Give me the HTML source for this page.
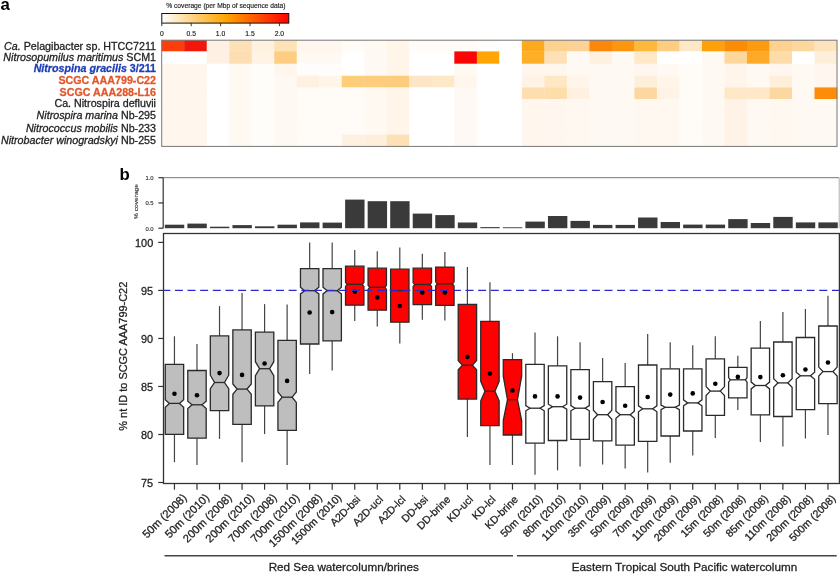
<!DOCTYPE html>
<html><head><meta charset="utf-8"><style>
html,body{margin:0;padding:0;background:#fff;}
svg{display:block;}
text{font-family:"Liberation Sans", sans-serif;}
svg{will-change:transform;}
</style></head><body>
<svg width="840" height="575" viewBox="0 0 840 575">
<defs><linearGradient id="cb" x1="0" x2="1" y1="0" y2="0">
<stop offset="0" stop-color="#ffffff"/><stop offset="0.5" stop-color="#ffa500"/><stop offset="1" stop-color="#ff0000"/>
</linearGradient></defs>
<rect width="840" height="575" fill="#fff"/>

<text x="0.6" y="9.8" font-size="16.8" font-weight="bold" fill="#000">a</text>
<text x="225.9" y="7.6" font-size="6.7" text-anchor="middle" fill="#222" stroke="#222" stroke-width="0.15">% coverage (per Mbp of sequence data)</text>
<rect x="161.8" y="13.5" width="127" height="9.6" fill="url(#cb)" stroke="#111" stroke-width="1"/>
<line x1="161.8" y1="23.1" x2="161.8" y2="26.2" stroke="#222" stroke-width="0.9"/>
<text x="161.8" y="35.8" font-size="6.8" text-anchor="middle" fill="#222" stroke="#222" stroke-width="0.15">0</text>
<line x1="191.2" y1="23.1" x2="191.2" y2="26.2" stroke="#222" stroke-width="0.9"/>
<text x="191.2" y="35.8" font-size="6.8" text-anchor="middle" fill="#222" stroke="#222" stroke-width="0.15">0.5</text>
<line x1="220.6" y1="23.1" x2="220.6" y2="26.2" stroke="#222" stroke-width="0.9"/>
<text x="220.6" y="35.8" font-size="6.8" text-anchor="middle" fill="#222" stroke="#222" stroke-width="0.15">1.0</text>
<line x1="250.0" y1="23.1" x2="250.0" y2="26.2" stroke="#222" stroke-width="0.9"/>
<text x="250.0" y="35.8" font-size="6.8" text-anchor="middle" fill="#222" stroke="#222" stroke-width="0.15">1.5</text>
<line x1="279.4" y1="23.1" x2="279.4" y2="26.2" stroke="#222" stroke-width="0.9"/>
<text x="279.4" y="35.8" font-size="6.8" text-anchor="middle" fill="#222" stroke="#222" stroke-width="0.15">2.0</text>
<rect x="161.70" y="40.20" width="22.81" height="11.50" fill="rgb(250,62,12)"/>
<rect x="161.70" y="51.40" width="22.81" height="12.60" fill="rgb(255,255,255)"/>
<rect x="161.70" y="63.70" width="22.81" height="12.30" fill="rgb(255,246,237)"/>
<rect x="161.70" y="75.70" width="22.81" height="12.00" fill="rgb(255,246,237)"/>
<rect x="161.70" y="87.40" width="22.81" height="12.00" fill="rgb(255,246,237)"/>
<rect x="161.70" y="99.10" width="22.81" height="12.10" fill="rgb(255,246,237)"/>
<rect x="161.70" y="110.90" width="22.81" height="12.20" fill="rgb(255,246,237)"/>
<rect x="161.70" y="122.80" width="22.81" height="12.10" fill="rgb(255,246,237)"/>
<rect x="161.70" y="134.60" width="22.81" height="12.10" fill="rgb(255,246,237)"/>
<rect x="184.21" y="40.20" width="22.81" height="11.50" fill="rgb(242,22,12)"/>
<rect x="184.21" y="51.40" width="22.81" height="12.60" fill="rgb(255,255,255)"/>
<rect x="184.21" y="63.70" width="22.81" height="12.30" fill="rgb(255,246,237)"/>
<rect x="184.21" y="75.70" width="22.81" height="12.00" fill="rgb(255,246,237)"/>
<rect x="184.21" y="87.40" width="22.81" height="12.00" fill="rgb(255,246,237)"/>
<rect x="184.21" y="99.10" width="22.81" height="12.10" fill="rgb(255,246,237)"/>
<rect x="184.21" y="110.90" width="22.81" height="12.20" fill="rgb(255,246,237)"/>
<rect x="184.21" y="122.80" width="22.81" height="12.10" fill="rgb(255,246,237)"/>
<rect x="184.21" y="134.60" width="22.81" height="12.10" fill="rgb(255,246,237)"/>
<rect x="206.72" y="40.20" width="22.81" height="11.50" fill="rgb(254,241,227)"/>
<rect x="206.72" y="51.40" width="22.81" height="12.60" fill="rgb(254,241,227)"/>
<rect x="206.72" y="63.70" width="22.81" height="12.30" fill="rgb(255,255,255)"/>
<rect x="206.72" y="75.70" width="22.81" height="12.00" fill="rgb(255,255,255)"/>
<rect x="206.72" y="87.40" width="22.81" height="12.00" fill="rgb(255,255,255)"/>
<rect x="206.72" y="99.10" width="22.81" height="12.10" fill="rgb(255,255,255)"/>
<rect x="206.72" y="110.90" width="22.81" height="12.20" fill="rgb(255,255,255)"/>
<rect x="206.72" y="122.80" width="22.81" height="12.10" fill="rgb(255,255,255)"/>
<rect x="206.72" y="134.60" width="22.81" height="12.10" fill="rgb(255,255,255)"/>
<rect x="229.23" y="40.20" width="22.81" height="11.50" fill="rgb(253,225,182)"/>
<rect x="229.23" y="51.40" width="22.81" height="12.60" fill="rgb(253,222,178)"/>
<rect x="229.23" y="63.70" width="22.81" height="12.30" fill="rgb(255,249,243)"/>
<rect x="229.23" y="75.70" width="22.81" height="12.00" fill="rgb(255,249,243)"/>
<rect x="229.23" y="87.40" width="22.81" height="12.00" fill="rgb(255,249,243)"/>
<rect x="229.23" y="99.10" width="22.81" height="12.10" fill="rgb(255,249,243)"/>
<rect x="229.23" y="110.90" width="22.81" height="12.20" fill="rgb(255,249,243)"/>
<rect x="229.23" y="122.80" width="22.81" height="12.10" fill="rgb(255,249,243)"/>
<rect x="229.23" y="134.60" width="22.81" height="12.10" fill="rgb(255,249,243)"/>
<rect x="251.74" y="40.20" width="22.81" height="11.50" fill="rgb(254,241,224)"/>
<rect x="251.74" y="51.40" width="22.81" height="12.60" fill="rgb(254,243,229)"/>
<rect x="251.74" y="63.70" width="22.81" height="12.30" fill="rgb(255,253,249)"/>
<rect x="251.74" y="75.70" width="22.81" height="12.00" fill="rgb(255,253,249)"/>
<rect x="251.74" y="87.40" width="22.81" height="12.00" fill="rgb(255,253,249)"/>
<rect x="251.74" y="99.10" width="22.81" height="12.10" fill="rgb(255,253,249)"/>
<rect x="251.74" y="110.90" width="22.81" height="12.20" fill="rgb(255,253,249)"/>
<rect x="251.74" y="122.80" width="22.81" height="12.10" fill="rgb(255,253,249)"/>
<rect x="251.74" y="134.60" width="22.81" height="12.10" fill="rgb(255,253,249)"/>
<rect x="274.25" y="40.20" width="22.81" height="11.50" fill="rgb(254,225,180)"/>
<rect x="274.25" y="51.40" width="22.81" height="12.60" fill="rgb(253,205,130)"/>
<rect x="274.25" y="63.70" width="22.81" height="12.30" fill="rgb(255,246,237)"/>
<rect x="274.25" y="75.70" width="22.81" height="12.00" fill="rgb(255,249,243)"/>
<rect x="274.25" y="87.40" width="22.81" height="12.00" fill="rgb(255,249,243)"/>
<rect x="274.25" y="99.10" width="22.81" height="12.10" fill="rgb(255,249,243)"/>
<rect x="274.25" y="110.90" width="22.81" height="12.20" fill="rgb(255,249,243)"/>
<rect x="274.25" y="122.80" width="22.81" height="12.10" fill="rgb(255,249,243)"/>
<rect x="274.25" y="134.60" width="22.81" height="12.10" fill="rgb(255,249,243)"/>
<rect x="296.76" y="40.20" width="22.81" height="11.50" fill="rgb(255,246,237)"/>
<rect x="296.76" y="51.40" width="22.81" height="12.60" fill="rgb(255,249,243)"/>
<rect x="296.76" y="63.70" width="22.81" height="12.30" fill="rgb(255,253,251)"/>
<rect x="296.76" y="75.70" width="22.81" height="12.00" fill="rgb(254,241,225)"/>
<rect x="296.76" y="87.40" width="22.81" height="12.00" fill="rgb(255,251,247)"/>
<rect x="296.76" y="99.10" width="22.81" height="12.10" fill="rgb(255,251,247)"/>
<rect x="296.76" y="110.90" width="22.81" height="12.20" fill="rgb(255,251,247)"/>
<rect x="296.76" y="122.80" width="22.81" height="12.10" fill="rgb(255,251,247)"/>
<rect x="296.76" y="134.60" width="22.81" height="12.10" fill="rgb(255,251,247)"/>
<rect x="319.27" y="40.20" width="22.81" height="11.50" fill="rgb(255,246,237)"/>
<rect x="319.27" y="51.40" width="22.81" height="12.60" fill="rgb(255,249,243)"/>
<rect x="319.27" y="63.70" width="22.81" height="12.30" fill="rgb(255,253,251)"/>
<rect x="319.27" y="75.70" width="22.81" height="12.00" fill="rgb(255,245,233)"/>
<rect x="319.27" y="87.40" width="22.81" height="12.00" fill="rgb(255,251,247)"/>
<rect x="319.27" y="99.10" width="22.81" height="12.10" fill="rgb(255,251,247)"/>
<rect x="319.27" y="110.90" width="22.81" height="12.20" fill="rgb(255,251,247)"/>
<rect x="319.27" y="122.80" width="22.81" height="12.10" fill="rgb(255,251,247)"/>
<rect x="319.27" y="134.60" width="22.81" height="12.10" fill="rgb(255,251,247)"/>
<rect x="341.78" y="40.20" width="22.81" height="11.50" fill="rgb(255,251,247)"/>
<rect x="341.78" y="51.40" width="22.81" height="12.60" fill="rgb(255,255,255)"/>
<rect x="341.78" y="63.70" width="22.81" height="12.30" fill="rgb(255,255,255)"/>
<rect x="341.78" y="75.70" width="22.81" height="12.00" fill="rgb(253,205,122)"/>
<rect x="341.78" y="87.40" width="22.81" height="12.00" fill="rgb(255,251,247)"/>
<rect x="341.78" y="99.10" width="22.81" height="12.10" fill="rgb(255,251,247)"/>
<rect x="341.78" y="110.90" width="22.81" height="12.20" fill="rgb(255,251,247)"/>
<rect x="341.78" y="122.80" width="22.81" height="12.10" fill="rgb(255,251,247)"/>
<rect x="341.78" y="134.60" width="22.81" height="12.10" fill="rgb(254,241,225)"/>
<rect x="364.29" y="40.20" width="22.81" height="11.50" fill="rgb(255,249,243)"/>
<rect x="364.29" y="51.40" width="22.81" height="12.60" fill="rgb(255,249,243)"/>
<rect x="364.29" y="63.70" width="22.81" height="12.30" fill="rgb(255,249,243)"/>
<rect x="364.29" y="75.70" width="22.81" height="12.00" fill="rgb(253,205,125)"/>
<rect x="364.29" y="87.40" width="22.81" height="12.00" fill="rgb(255,249,241)"/>
<rect x="364.29" y="99.10" width="22.81" height="12.10" fill="rgb(255,249,241)"/>
<rect x="364.29" y="110.90" width="22.81" height="12.20" fill="rgb(255,249,241)"/>
<rect x="364.29" y="122.80" width="22.81" height="12.10" fill="rgb(255,249,241)"/>
<rect x="364.29" y="134.60" width="22.81" height="12.10" fill="rgb(254,239,221)"/>
<rect x="386.80" y="40.20" width="22.81" height="11.50" fill="rgb(255,245,233)"/>
<rect x="386.80" y="51.40" width="22.81" height="12.60" fill="rgb(255,245,233)"/>
<rect x="386.80" y="63.70" width="22.81" height="12.30" fill="rgb(255,245,233)"/>
<rect x="386.80" y="75.70" width="22.81" height="12.00" fill="rgb(253,205,125)"/>
<rect x="386.80" y="87.40" width="22.81" height="12.00" fill="rgb(255,245,233)"/>
<rect x="386.80" y="99.10" width="22.81" height="12.10" fill="rgb(255,245,233)"/>
<rect x="386.80" y="110.90" width="22.81" height="12.20" fill="rgb(255,245,233)"/>
<rect x="386.80" y="122.80" width="22.81" height="12.10" fill="rgb(255,245,233)"/>
<rect x="386.80" y="134.60" width="22.81" height="12.10" fill="rgb(253,225,180)"/>
<rect x="409.31" y="40.20" width="22.81" height="11.50" fill="rgb(255,251,247)"/>
<rect x="409.31" y="51.40" width="22.81" height="12.60" fill="rgb(255,255,255)"/>
<rect x="409.31" y="63.70" width="22.81" height="12.30" fill="rgb(255,255,255)"/>
<rect x="409.31" y="75.70" width="22.81" height="12.00" fill="rgb(253,230,200)"/>
<rect x="409.31" y="87.40" width="22.81" height="12.00" fill="rgb(255,255,255)"/>
<rect x="409.31" y="99.10" width="22.81" height="12.10" fill="rgb(255,255,255)"/>
<rect x="409.31" y="110.90" width="22.81" height="12.20" fill="rgb(255,255,255)"/>
<rect x="409.31" y="122.80" width="22.81" height="12.10" fill="rgb(255,255,255)"/>
<rect x="409.31" y="134.60" width="22.81" height="12.10" fill="rgb(255,255,255)"/>
<rect x="431.82" y="40.20" width="22.81" height="11.50" fill="rgb(255,251,247)"/>
<rect x="431.82" y="51.40" width="22.81" height="12.60" fill="rgb(255,255,255)"/>
<rect x="431.82" y="63.70" width="22.81" height="12.30" fill="rgb(255,255,255)"/>
<rect x="431.82" y="75.70" width="22.81" height="12.00" fill="rgb(253,232,200)"/>
<rect x="431.82" y="87.40" width="22.81" height="12.00" fill="rgb(255,255,255)"/>
<rect x="431.82" y="99.10" width="22.81" height="12.10" fill="rgb(255,255,255)"/>
<rect x="431.82" y="110.90" width="22.81" height="12.20" fill="rgb(255,255,255)"/>
<rect x="431.82" y="122.80" width="22.81" height="12.10" fill="rgb(255,255,255)"/>
<rect x="431.82" y="134.60" width="22.81" height="12.10" fill="rgb(255,255,255)"/>
<rect x="454.33" y="40.20" width="22.81" height="11.50" fill="rgb(255,251,247)"/>
<rect x="454.33" y="51.40" width="22.81" height="12.60" fill="rgb(250,5,5)"/>
<rect x="454.33" y="63.70" width="22.81" height="12.30" fill="rgb(255,249,243)"/>
<rect x="454.33" y="75.70" width="22.81" height="12.00" fill="rgb(255,246,237)"/>
<rect x="454.33" y="87.40" width="22.81" height="12.00" fill="rgb(255,249,245)"/>
<rect x="454.33" y="99.10" width="22.81" height="12.10" fill="rgb(255,249,245)"/>
<rect x="454.33" y="110.90" width="22.81" height="12.20" fill="rgb(255,249,245)"/>
<rect x="454.33" y="122.80" width="22.81" height="12.10" fill="rgb(255,249,245)"/>
<rect x="454.33" y="134.60" width="22.81" height="12.10" fill="rgb(255,249,245)"/>
<rect x="476.84" y="40.20" width="22.81" height="11.50" fill="rgb(255,253,251)"/>
<rect x="476.84" y="51.40" width="22.81" height="12.60" fill="rgb(255,165,5)"/>
<rect x="476.84" y="63.70" width="22.81" height="12.30" fill="rgb(255,255,255)"/>
<rect x="476.84" y="75.70" width="22.81" height="12.00" fill="rgb(255,255,255)"/>
<rect x="476.84" y="87.40" width="22.81" height="12.00" fill="rgb(255,255,255)"/>
<rect x="476.84" y="99.10" width="22.81" height="12.10" fill="rgb(255,255,255)"/>
<rect x="476.84" y="110.90" width="22.81" height="12.20" fill="rgb(255,255,255)"/>
<rect x="476.84" y="122.80" width="22.81" height="12.10" fill="rgb(255,255,255)"/>
<rect x="476.84" y="134.60" width="22.81" height="12.10" fill="rgb(255,255,255)"/>
<rect x="499.35" y="40.20" width="22.81" height="11.50" fill="rgb(255,255,255)"/>
<rect x="499.35" y="51.40" width="22.81" height="12.60" fill="rgb(255,255,255)"/>
<rect x="499.35" y="63.70" width="22.81" height="12.30" fill="rgb(255,255,255)"/>
<rect x="499.35" y="75.70" width="22.81" height="12.00" fill="rgb(255,255,255)"/>
<rect x="499.35" y="87.40" width="22.81" height="12.00" fill="rgb(255,255,255)"/>
<rect x="499.35" y="99.10" width="22.81" height="12.10" fill="rgb(255,255,255)"/>
<rect x="499.35" y="110.90" width="22.81" height="12.20" fill="rgb(255,255,255)"/>
<rect x="499.35" y="122.80" width="22.81" height="12.10" fill="rgb(255,255,255)"/>
<rect x="499.35" y="134.60" width="22.81" height="12.10" fill="rgb(255,255,255)"/>
<rect x="521.86" y="40.20" width="22.81" height="11.50" fill="rgb(253,170,30)"/>
<rect x="521.86" y="51.40" width="22.81" height="12.60" fill="rgb(253,175,40)"/>
<rect x="521.86" y="63.70" width="22.81" height="12.30" fill="rgb(255,246,237)"/>
<rect x="521.86" y="75.70" width="22.81" height="12.00" fill="rgb(255,243,231)"/>
<rect x="521.86" y="87.40" width="22.81" height="12.00" fill="rgb(253,222,175)"/>
<rect x="521.86" y="99.10" width="22.81" height="12.10" fill="rgb(255,246,237)"/>
<rect x="521.86" y="110.90" width="22.81" height="12.20" fill="rgb(255,246,237)"/>
<rect x="521.86" y="122.80" width="22.81" height="12.10" fill="rgb(255,246,237)"/>
<rect x="521.86" y="134.60" width="22.81" height="12.10" fill="rgb(255,246,237)"/>
<rect x="544.37" y="40.20" width="22.81" height="11.50" fill="rgb(253,210,145)"/>
<rect x="544.37" y="51.40" width="22.81" height="12.60" fill="rgb(253,225,180)"/>
<rect x="544.37" y="63.70" width="22.81" height="12.30" fill="rgb(255,246,237)"/>
<rect x="544.37" y="75.70" width="22.81" height="12.00" fill="rgb(253,232,195)"/>
<rect x="544.37" y="87.40" width="22.81" height="12.00" fill="rgb(253,222,170)"/>
<rect x="544.37" y="99.10" width="22.81" height="12.10" fill="rgb(255,247,239)"/>
<rect x="544.37" y="110.90" width="22.81" height="12.20" fill="rgb(255,247,239)"/>
<rect x="544.37" y="122.80" width="22.81" height="12.10" fill="rgb(255,247,239)"/>
<rect x="544.37" y="134.60" width="22.81" height="12.10" fill="rgb(255,247,239)"/>
<rect x="566.88" y="40.20" width="22.81" height="11.50" fill="rgb(253,210,150)"/>
<rect x="566.88" y="51.40" width="22.81" height="12.60" fill="rgb(255,249,243)"/>
<rect x="566.88" y="63.70" width="22.81" height="12.30" fill="rgb(255,249,243)"/>
<rect x="566.88" y="75.70" width="22.81" height="12.00" fill="rgb(255,245,235)"/>
<rect x="566.88" y="87.40" width="22.81" height="12.00" fill="rgb(255,240,223)"/>
<rect x="566.88" y="99.10" width="22.81" height="12.10" fill="rgb(255,248,241)"/>
<rect x="566.88" y="110.90" width="22.81" height="12.20" fill="rgb(255,248,241)"/>
<rect x="566.88" y="122.80" width="22.81" height="12.10" fill="rgb(255,248,241)"/>
<rect x="566.88" y="134.60" width="22.81" height="12.10" fill="rgb(255,248,241)"/>
<rect x="589.39" y="40.20" width="22.81" height="11.50" fill="rgb(252,135,10)"/>
<rect x="589.39" y="51.40" width="22.81" height="12.60" fill="rgb(254,241,223)"/>
<rect x="589.39" y="63.70" width="22.81" height="12.30" fill="rgb(255,249,243)"/>
<rect x="589.39" y="75.70" width="22.81" height="12.00" fill="rgb(255,249,243)"/>
<rect x="589.39" y="87.40" width="22.81" height="12.00" fill="rgb(255,249,243)"/>
<rect x="589.39" y="99.10" width="22.81" height="12.10" fill="rgb(255,249,243)"/>
<rect x="589.39" y="110.90" width="22.81" height="12.20" fill="rgb(255,249,243)"/>
<rect x="589.39" y="122.80" width="22.81" height="12.10" fill="rgb(255,249,243)"/>
<rect x="589.39" y="134.60" width="22.81" height="12.10" fill="rgb(255,249,243)"/>
<rect x="611.90" y="40.20" width="22.81" height="11.50" fill="rgb(253,150,15)"/>
<rect x="611.90" y="51.40" width="22.81" height="12.60" fill="rgb(255,249,243)"/>
<rect x="611.90" y="63.70" width="22.81" height="12.30" fill="rgb(255,249,243)"/>
<rect x="611.90" y="75.70" width="22.81" height="12.00" fill="rgb(255,249,243)"/>
<rect x="611.90" y="87.40" width="22.81" height="12.00" fill="rgb(255,249,243)"/>
<rect x="611.90" y="99.10" width="22.81" height="12.10" fill="rgb(255,249,243)"/>
<rect x="611.90" y="110.90" width="22.81" height="12.20" fill="rgb(255,249,243)"/>
<rect x="611.90" y="122.80" width="22.81" height="12.10" fill="rgb(255,249,243)"/>
<rect x="611.90" y="134.60" width="22.81" height="12.10" fill="rgb(255,249,243)"/>
<rect x="634.41" y="40.20" width="22.81" height="11.50" fill="rgb(253,185,60)"/>
<rect x="634.41" y="51.40" width="22.81" height="12.60" fill="rgb(254,232,200)"/>
<rect x="634.41" y="63.70" width="22.81" height="12.30" fill="rgb(255,247,239)"/>
<rect x="634.41" y="75.70" width="22.81" height="12.00" fill="rgb(254,239,219)"/>
<rect x="634.41" y="87.40" width="22.81" height="12.00" fill="rgb(253,215,160)"/>
<rect x="634.41" y="99.10" width="22.81" height="12.10" fill="rgb(255,248,241)"/>
<rect x="634.41" y="110.90" width="22.81" height="12.20" fill="rgb(255,248,241)"/>
<rect x="634.41" y="122.80" width="22.81" height="12.10" fill="rgb(255,248,241)"/>
<rect x="634.41" y="134.60" width="22.81" height="12.10" fill="rgb(255,248,241)"/>
<rect x="656.92" y="40.20" width="22.81" height="11.50" fill="rgb(253,205,130)"/>
<rect x="656.92" y="51.40" width="22.81" height="12.60" fill="rgb(255,255,255)"/>
<rect x="656.92" y="63.70" width="22.81" height="12.30" fill="rgb(255,249,243)"/>
<rect x="656.92" y="75.70" width="22.81" height="12.00" fill="rgb(255,245,233)"/>
<rect x="656.92" y="87.40" width="22.81" height="12.00" fill="rgb(255,243,231)"/>
<rect x="656.92" y="99.10" width="22.81" height="12.10" fill="rgb(255,248,240)"/>
<rect x="656.92" y="110.90" width="22.81" height="12.20" fill="rgb(255,248,240)"/>
<rect x="656.92" y="122.80" width="22.81" height="12.10" fill="rgb(255,248,240)"/>
<rect x="656.92" y="134.60" width="22.81" height="12.10" fill="rgb(255,248,240)"/>
<rect x="679.43" y="40.20" width="22.81" height="11.50" fill="rgb(254,232,200)"/>
<rect x="679.43" y="51.40" width="22.81" height="12.60" fill="rgb(255,255,255)"/>
<rect x="679.43" y="63.70" width="22.81" height="12.30" fill="rgb(255,251,247)"/>
<rect x="679.43" y="75.70" width="22.81" height="12.00" fill="rgb(255,251,247)"/>
<rect x="679.43" y="87.40" width="22.81" height="12.00" fill="rgb(255,251,247)"/>
<rect x="679.43" y="99.10" width="22.81" height="12.10" fill="rgb(255,251,247)"/>
<rect x="679.43" y="110.90" width="22.81" height="12.20" fill="rgb(255,251,247)"/>
<rect x="679.43" y="122.80" width="22.81" height="12.10" fill="rgb(255,251,247)"/>
<rect x="679.43" y="134.60" width="22.81" height="12.10" fill="rgb(255,251,247)"/>
<rect x="701.94" y="40.20" width="22.81" height="11.50" fill="rgb(253,160,10)"/>
<rect x="701.94" y="51.40" width="22.81" height="12.60" fill="rgb(255,249,243)"/>
<rect x="701.94" y="63.70" width="22.81" height="12.30" fill="rgb(255,249,243)"/>
<rect x="701.94" y="75.70" width="22.81" height="12.00" fill="rgb(255,249,243)"/>
<rect x="701.94" y="87.40" width="22.81" height="12.00" fill="rgb(255,249,243)"/>
<rect x="701.94" y="99.10" width="22.81" height="12.10" fill="rgb(255,249,243)"/>
<rect x="701.94" y="110.90" width="22.81" height="12.20" fill="rgb(255,249,243)"/>
<rect x="701.94" y="122.80" width="22.81" height="12.10" fill="rgb(255,249,243)"/>
<rect x="701.94" y="134.60" width="22.81" height="12.10" fill="rgb(255,249,243)"/>
<rect x="724.45" y="40.20" width="22.81" height="11.50" fill="rgb(252,140,5)"/>
<rect x="724.45" y="51.40" width="22.81" height="12.60" fill="rgb(253,215,155)"/>
<rect x="724.45" y="63.70" width="22.81" height="12.30" fill="rgb(255,245,235)"/>
<rect x="724.45" y="75.70" width="22.81" height="12.00" fill="rgb(255,245,235)"/>
<rect x="724.45" y="87.40" width="22.81" height="12.00" fill="rgb(254,232,200)"/>
<rect x="724.45" y="99.10" width="22.81" height="12.10" fill="rgb(255,243,231)"/>
<rect x="724.45" y="110.90" width="22.81" height="12.20" fill="rgb(255,243,231)"/>
<rect x="724.45" y="122.80" width="22.81" height="12.10" fill="rgb(255,243,231)"/>
<rect x="724.45" y="134.60" width="22.81" height="12.10" fill="rgb(255,243,231)"/>
<rect x="746.96" y="40.20" width="22.81" height="11.50" fill="rgb(253,155,15)"/>
<rect x="746.96" y="51.40" width="22.81" height="12.60" fill="rgb(253,170,40)"/>
<rect x="746.96" y="63.70" width="22.81" height="12.30" fill="rgb(255,249,243)"/>
<rect x="746.96" y="75.70" width="22.81" height="12.00" fill="rgb(255,249,243)"/>
<rect x="746.96" y="87.40" width="22.81" height="12.00" fill="rgb(254,232,200)"/>
<rect x="746.96" y="99.10" width="22.81" height="12.10" fill="rgb(255,249,243)"/>
<rect x="746.96" y="110.90" width="22.81" height="12.20" fill="rgb(255,249,243)"/>
<rect x="746.96" y="122.80" width="22.81" height="12.10" fill="rgb(255,249,243)"/>
<rect x="746.96" y="134.60" width="22.81" height="12.10" fill="rgb(255,249,243)"/>
<rect x="769.47" y="40.20" width="22.81" height="11.50" fill="rgb(253,210,145)"/>
<rect x="769.47" y="51.40" width="22.81" height="12.60" fill="rgb(253,220,170)"/>
<rect x="769.47" y="63.70" width="22.81" height="12.30" fill="rgb(255,247,239)"/>
<rect x="769.47" y="75.70" width="22.81" height="12.00" fill="rgb(254,239,219)"/>
<rect x="769.47" y="87.40" width="22.81" height="12.00" fill="rgb(253,215,160)"/>
<rect x="769.47" y="99.10" width="22.81" height="12.10" fill="rgb(255,248,241)"/>
<rect x="769.47" y="110.90" width="22.81" height="12.20" fill="rgb(255,248,241)"/>
<rect x="769.47" y="122.80" width="22.81" height="12.10" fill="rgb(255,248,241)"/>
<rect x="769.47" y="134.60" width="22.81" height="12.10" fill="rgb(255,248,241)"/>
<rect x="791.98" y="40.20" width="22.81" height="11.50" fill="rgb(253,215,155)"/>
<rect x="791.98" y="51.40" width="22.81" height="12.60" fill="rgb(255,255,255)"/>
<rect x="791.98" y="63.70" width="22.81" height="12.30" fill="rgb(255,249,243)"/>
<rect x="791.98" y="75.70" width="22.81" height="12.00" fill="rgb(255,249,243)"/>
<rect x="791.98" y="87.40" width="22.81" height="12.00" fill="rgb(255,249,243)"/>
<rect x="791.98" y="99.10" width="22.81" height="12.10" fill="rgb(255,249,243)"/>
<rect x="791.98" y="110.90" width="22.81" height="12.20" fill="rgb(255,249,243)"/>
<rect x="791.98" y="122.80" width="22.81" height="12.10" fill="rgb(255,249,243)"/>
<rect x="791.98" y="134.60" width="22.81" height="12.10" fill="rgb(255,249,243)"/>
<rect x="814.49" y="40.20" width="22.81" height="11.50" fill="rgb(254,228,190)"/>
<rect x="814.49" y="51.40" width="22.81" height="12.60" fill="rgb(254,239,219)"/>
<rect x="814.49" y="63.70" width="22.81" height="12.30" fill="rgb(255,247,239)"/>
<rect x="814.49" y="75.70" width="22.81" height="12.00" fill="rgb(255,247,239)"/>
<rect x="814.49" y="87.40" width="22.81" height="12.00" fill="rgb(253,140,10)"/>
<rect x="814.49" y="99.10" width="22.81" height="12.10" fill="rgb(255,249,243)"/>
<rect x="814.49" y="110.90" width="22.81" height="12.20" fill="rgb(255,249,243)"/>
<rect x="814.49" y="122.80" width="22.81" height="12.10" fill="rgb(255,249,243)"/>
<rect x="814.49" y="134.60" width="22.81" height="12.10" fill="rgb(255,249,243)"/>
<rect x="161.7" y="40.2" width="675.30" height="106.2" fill="none" stroke="#777" stroke-width="1"/>
<text x="156" y="49.70" font-size="10.7" text-anchor="end" fill="#222" stroke="#222" stroke-width="0.28"><tspan font-style="italic">Ca.</tspan> Pelagibacter sp. HTCC7211</text>
<text x="156" y="60.50" font-size="10.7" text-anchor="end" fill="#222" stroke="#222" stroke-width="0.28"><tspan font-style="italic">Nitrosopumilus maritimus</tspan> SCM1</text>
<text x="156" y="72.00" font-size="10.7" text-anchor="end" fill="#1c3db6" font-weight="bold" stroke="#1c3db6" stroke-width="0.28"><tspan font-style="italic">Nitrospina gracilis</tspan> 3/211</text>
<text x="156" y="84.40" font-size="10.7" text-anchor="end" fill="#e2572b" font-weight="bold" stroke="#e2572b" stroke-width="0.28">SCGC AAA799-C22</text>
<text x="156" y="95.90" font-size="10.7" text-anchor="end" fill="#e2572b" font-weight="bold" stroke="#e2572b" stroke-width="0.28">SCGC AAA288-L16</text>
<text x="156" y="107.00" font-size="10.7" text-anchor="end" fill="#222" stroke="#222" stroke-width="0.28">Ca. Nitrospira defluvii</text>
<text x="156" y="118.70" font-size="10.7" text-anchor="end" fill="#222" stroke="#222" stroke-width="0.28"><tspan font-style="italic">Nitrospira marina</tspan> Nb-295</text>
<text x="156" y="132.20" font-size="10.7" text-anchor="end" fill="#222" stroke="#222" stroke-width="0.28"><tspan font-style="italic">Nitrococcus mobilis</tspan> Nb-233</text>
<text x="156" y="143.90" font-size="10.7" text-anchor="end" fill="#222" stroke="#222" stroke-width="0.28"><tspan font-style="italic">Nitrobacter winogradskyi</tspan> Nb-255</text>
<text x="119.6" y="180" font-size="16.8" font-weight="bold" fill="#000">b</text>
<line x1="163.2" y1="177.7" x2="839.2" y2="177.7" stroke="#777" stroke-width="1"/>
<line x1="839.2" y1="177.7" x2="839.2" y2="228.2" stroke="#999" stroke-width="0.8"/>
<line x1="163.2" y1="177.7" x2="163.2" y2="228.2" stroke="#333" stroke-width="1.2"/>
<line x1="158.4" y1="177.70" x2="163.2" y2="177.70" stroke="#333" stroke-width="1.2"/>
<text x="153.6" y="180.20" font-size="5.9" text-anchor="end" fill="#333" stroke="#333" stroke-width="0.15">1.0</text>
<line x1="158.4" y1="202.95" x2="163.2" y2="202.95" stroke="#333" stroke-width="1.2"/>
<text x="153.6" y="205.45" font-size="5.9" text-anchor="end" fill="#333" stroke="#333" stroke-width="0.15">0.5</text>
<line x1="158.4" y1="228.20" x2="163.2" y2="228.20" stroke="#333" stroke-width="1.2"/>
<text x="153.6" y="230.70" font-size="5.9" text-anchor="end" fill="#333" stroke="#333" stroke-width="0.15">0.0</text>
<text transform="translate(137.8,201.5) rotate(-90) scale(1,0.85)" font-size="6.6" text-anchor="middle" fill="#333" stroke="#333" stroke-width="0.15">% coverage</text>
<rect x="164.85" y="224.70" width="19.4" height="3.50" fill="#3a3a3a"/>
<rect x="187.38" y="223.60" width="19.4" height="4.60" fill="#3a3a3a"/>
<rect x="209.92" y="226.70" width="19.4" height="1.50" fill="#3a3a3a"/>
<rect x="232.46" y="225.10" width="19.4" height="3.10" fill="#3a3a3a"/>
<rect x="254.99" y="226.30" width="19.4" height="1.90" fill="#3a3a3a"/>
<rect x="277.52" y="224.70" width="19.4" height="3.50" fill="#3a3a3a"/>
<rect x="300.06" y="222.40" width="19.4" height="5.80" fill="#3a3a3a"/>
<rect x="322.59" y="222.60" width="19.4" height="5.60" fill="#3a3a3a"/>
<rect x="345.13" y="199.60" width="19.4" height="28.60" fill="#3a3a3a"/>
<rect x="367.66" y="201.20" width="19.4" height="27.00" fill="#3a3a3a"/>
<rect x="390.20" y="201.20" width="19.4" height="27.00" fill="#3a3a3a"/>
<rect x="412.73" y="213.60" width="19.4" height="14.60" fill="#3a3a3a"/>
<rect x="435.27" y="215.10" width="19.4" height="13.10" fill="#3a3a3a"/>
<rect x="457.80" y="222.50" width="19.4" height="5.70" fill="#3a3a3a"/>
<rect x="480.34" y="227.10" width="19.4" height="1.10" fill="#3a3a3a"/>
<rect x="502.87" y="227.30" width="19.4" height="0.90" fill="#3a3a3a"/>
<rect x="525.41" y="221.60" width="19.4" height="6.60" fill="#3a3a3a"/>
<rect x="547.95" y="216.00" width="19.4" height="12.20" fill="#3a3a3a"/>
<rect x="570.48" y="220.90" width="19.4" height="7.30" fill="#3a3a3a"/>
<rect x="593.01" y="224.90" width="19.4" height="3.30" fill="#3a3a3a"/>
<rect x="615.55" y="224.90" width="19.4" height="3.30" fill="#3a3a3a"/>
<rect x="638.08" y="217.50" width="19.4" height="10.70" fill="#3a3a3a"/>
<rect x="660.62" y="222.00" width="19.4" height="6.20" fill="#3a3a3a"/>
<rect x="683.15" y="224.60" width="19.4" height="3.60" fill="#3a3a3a"/>
<rect x="705.69" y="224.60" width="19.4" height="3.60" fill="#3a3a3a"/>
<rect x="728.23" y="219.10" width="19.4" height="9.10" fill="#3a3a3a"/>
<rect x="750.76" y="223.00" width="19.4" height="5.20" fill="#3a3a3a"/>
<rect x="773.29" y="216.90" width="19.4" height="11.30" fill="#3a3a3a"/>
<rect x="795.83" y="222.40" width="19.4" height="5.80" fill="#3a3a3a"/>
<rect x="818.36" y="222.40" width="19.4" height="5.80" fill="#3a3a3a"/>
<rect x="163.5" y="233.5" width="675.9" height="250.0" fill="none" stroke="#333" stroke-width="1.3"/>
<line x1="158.2" y1="242.40" x2="163.5" y2="242.40" stroke="#333" stroke-width="1.2"/>
<text x="153.2" y="247.10" font-size="10.9" text-anchor="end" fill="#222" stroke="#222" stroke-width="0.28">100</text>
<line x1="158.2" y1="290.42" x2="163.5" y2="290.42" stroke="#333" stroke-width="1.2"/>
<text x="153.2" y="295.12" font-size="10.9" text-anchor="end" fill="#222" stroke="#222" stroke-width="0.28">95</text>
<line x1="158.2" y1="338.44" x2="163.5" y2="338.44" stroke="#333" stroke-width="1.2"/>
<text x="153.2" y="343.14" font-size="10.9" text-anchor="end" fill="#222" stroke="#222" stroke-width="0.28">90</text>
<line x1="158.2" y1="386.46" x2="163.5" y2="386.46" stroke="#333" stroke-width="1.2"/>
<text x="153.2" y="391.16" font-size="10.9" text-anchor="end" fill="#222" stroke="#222" stroke-width="0.28">85</text>
<line x1="158.2" y1="434.48" x2="163.5" y2="434.48" stroke="#333" stroke-width="1.2"/>
<text x="153.2" y="439.18" font-size="10.9" text-anchor="end" fill="#222" stroke="#222" stroke-width="0.28">80</text>
<line x1="158.2" y1="482.50" x2="163.5" y2="482.50" stroke="#333" stroke-width="1.2"/>
<text x="153.2" y="487.20" font-size="10.9" text-anchor="end" fill="#222" stroke="#222" stroke-width="0.28">75</text>
<text transform="translate(127.0,356.2) rotate(-90)" font-size="10.95" text-anchor="middle" fill="#222" stroke="#222" stroke-width="0.28">% nt ID to SCGC AAA799-C22</text>
<line x1="174.45" y1="336.3" x2="174.45" y2="364.3" stroke="#444" stroke-width="1.2"/>
<line x1="174.45" y1="434.4" x2="174.45" y2="462.2" stroke="#444" stroke-width="1.2"/>
<polygon points="165.25,364.30 183.65,364.30 183.65,399.70 179.45,403.40 183.65,407.40 183.65,434.40 165.25,434.40 165.25,407.40 169.45,403.40 165.25,399.70" fill="#bebebe" stroke="#2a2a2a" stroke-width="1.3" stroke-linejoin="miter"/>
<line x1="169.45" y1="403.4" x2="179.45" y2="403.4" stroke="#2a2a2a" stroke-width="1.3"/>
<circle cx="174.45" cy="393.8" r="2.3" fill="#000"/>
<line x1="196.98" y1="343.9" x2="196.98" y2="370.5" stroke="#444" stroke-width="1.2"/>
<line x1="196.98" y1="438.2" x2="196.98" y2="465.0" stroke="#444" stroke-width="1.2"/>
<polygon points="187.78,370.50 206.18,370.50 206.18,401.20 201.98,404.80 206.18,408.60 206.18,438.20 187.78,438.20 187.78,408.60 191.98,404.80 187.78,401.20" fill="#bebebe" stroke="#2a2a2a" stroke-width="1.3" stroke-linejoin="miter"/>
<line x1="191.98" y1="404.8" x2="201.98" y2="404.8" stroke="#2a2a2a" stroke-width="1.3"/>
<circle cx="196.98" cy="395.3" r="2.3" fill="#000"/>
<line x1="219.52" y1="306.1" x2="219.52" y2="335.9" stroke="#444" stroke-width="1.2"/>
<line x1="219.52" y1="410.7" x2="219.52" y2="438.9" stroke="#444" stroke-width="1.2"/>
<polygon points="210.32,335.90 228.72,335.90 228.72,375.20 224.52,382.50 228.72,388.60 228.72,410.70 210.32,410.70 210.32,388.60 214.52,382.50 210.32,375.20" fill="#bebebe" stroke="#2a2a2a" stroke-width="1.3" stroke-linejoin="miter"/>
<line x1="214.52" y1="382.5" x2="224.52" y2="382.5" stroke="#2a2a2a" stroke-width="1.3"/>
<circle cx="219.52" cy="373.1" r="2.3" fill="#000"/>
<line x1="242.06" y1="293.0" x2="242.06" y2="329.9" stroke="#444" stroke-width="1.2"/>
<line x1="242.06" y1="424.3" x2="242.06" y2="462.2" stroke="#444" stroke-width="1.2"/>
<polygon points="232.86,329.90 251.25,329.90 251.25,383.90 247.06,389.10 251.25,394.30 251.25,424.30 232.86,424.30 232.86,394.30 237.06,389.10 232.86,383.90" fill="#bebebe" stroke="#2a2a2a" stroke-width="1.3" stroke-linejoin="miter"/>
<line x1="237.06" y1="389.1" x2="247.06" y2="389.1" stroke="#2a2a2a" stroke-width="1.3"/>
<circle cx="242.06" cy="374.9" r="2.3" fill="#000"/>
<line x1="264.59" y1="304.1" x2="264.59" y2="332.2" stroke="#444" stroke-width="1.2"/>
<line x1="264.59" y1="405.9" x2="264.59" y2="434.1" stroke="#444" stroke-width="1.2"/>
<polygon points="255.39,332.20 273.79,332.20 273.79,361.70 269.59,368.70 273.79,375.70 273.79,405.90 255.39,405.90 255.39,375.70 259.59,368.70 255.39,361.70" fill="#bebebe" stroke="#2a2a2a" stroke-width="1.3" stroke-linejoin="miter"/>
<line x1="259.59" y1="368.7" x2="269.59" y2="368.7" stroke="#2a2a2a" stroke-width="1.3"/>
<circle cx="264.59" cy="363.5" r="2.3" fill="#000"/>
<line x1="287.12" y1="304.5" x2="287.12" y2="340.3" stroke="#444" stroke-width="1.2"/>
<line x1="287.12" y1="430.3" x2="287.12" y2="465.0" stroke="#444" stroke-width="1.2"/>
<polygon points="277.93,340.30 296.32,340.30 296.32,392.00 292.12,397.20 296.32,402.40 296.32,430.30 277.93,430.30 277.93,402.40 282.12,397.20 277.93,392.00" fill="#bebebe" stroke="#2a2a2a" stroke-width="1.3" stroke-linejoin="miter"/>
<line x1="282.12" y1="397.2" x2="292.12" y2="397.2" stroke="#2a2a2a" stroke-width="1.3"/>
<circle cx="287.12" cy="380.9" r="2.3" fill="#000"/>
<line x1="309.66" y1="242.6" x2="309.66" y2="268.7" stroke="#444" stroke-width="1.2"/>
<line x1="309.66" y1="344.0" x2="309.66" y2="373.9" stroke="#444" stroke-width="1.2"/>
<polygon points="300.46,268.70 318.86,268.70 318.86,287.30 314.66,290.70 318.86,293.90 318.86,344.00 300.46,344.00 300.46,293.90 304.66,290.70 300.46,287.30" fill="#bebebe" stroke="#2a2a2a" stroke-width="1.3" stroke-linejoin="miter"/>
<line x1="304.66" y1="290.7" x2="314.66" y2="290.7" stroke="#2a2a2a" stroke-width="1.3"/>
<circle cx="309.66" cy="312.5" r="2.3" fill="#000"/>
<line x1="332.19" y1="242.6" x2="332.19" y2="268.7" stroke="#444" stroke-width="1.2"/>
<line x1="332.19" y1="340.9" x2="332.19" y2="370.4" stroke="#444" stroke-width="1.2"/>
<polygon points="323.00,268.70 341.39,268.70 341.39,287.30 337.19,290.70 341.39,293.90 341.39,340.90 323.00,340.90 323.00,293.90 327.19,290.70 323.00,287.30" fill="#bebebe" stroke="#2a2a2a" stroke-width="1.3" stroke-linejoin="miter"/>
<line x1="327.19" y1="290.7" x2="337.19" y2="290.7" stroke="#2a2a2a" stroke-width="1.3"/>
<circle cx="332.19" cy="312.1" r="2.3" fill="#000"/>
<line x1="354.73" y1="250.1" x2="354.73" y2="266.2" stroke="#444" stroke-width="1.2"/>
<line x1="354.73" y1="305.2" x2="354.73" y2="320.9" stroke="#444" stroke-width="1.2"/>
<polygon points="345.53,266.20 363.93,266.20 363.93,282.20 362.33,284.30 363.93,286.40 363.93,305.20 345.53,305.20 345.53,286.40 347.13,284.30 345.53,282.20" fill="#ff0000" stroke="#2a2a2a" stroke-width="1.3" stroke-linejoin="miter"/>
<line x1="347.13" y1="284.3" x2="362.33" y2="284.3" stroke="#2a2a2a" stroke-width="1.3"/>
<circle cx="354.73" cy="291.8" r="2.3" fill="#000"/>
<line x1="377.26" y1="251.3" x2="377.26" y2="268.2" stroke="#444" stroke-width="1.2"/>
<line x1="377.26" y1="310.2" x2="377.26" y2="326.6" stroke="#444" stroke-width="1.2"/>
<polygon points="368.06,268.20 386.46,268.20 386.46,285.20 384.86,287.30 386.46,289.40 386.46,310.20 368.06,310.20 368.06,289.40 369.67,287.30 368.06,285.20" fill="#ff0000" stroke="#2a2a2a" stroke-width="1.3" stroke-linejoin="miter"/>
<line x1="369.67" y1="287.3" x2="384.86" y2="287.3" stroke="#2a2a2a" stroke-width="1.3"/>
<circle cx="377.26" cy="297.4" r="2.3" fill="#000"/>
<line x1="399.80" y1="247.5" x2="399.80" y2="269.2" stroke="#444" stroke-width="1.2"/>
<line x1="399.80" y1="322.2" x2="399.80" y2="343.4" stroke="#444" stroke-width="1.2"/>
<polygon points="390.60,269.20 409.00,269.20 409.00,290.40 409.00,290.60 409.00,290.80 409.00,322.20 390.60,322.20 390.60,290.80 390.60,290.60 390.60,290.40" fill="#ff0000" stroke="#2a2a2a" stroke-width="1.3" stroke-linejoin="miter"/>
<line x1="390.60" y1="290.6" x2="409.00" y2="290.6" stroke="#2a2a2a" stroke-width="1.3"/>
<circle cx="399.80" cy="306.0" r="2.3" fill="#000"/>
<line x1="422.33" y1="253.8" x2="422.33" y2="268.2" stroke="#444" stroke-width="1.2"/>
<line x1="422.33" y1="304.7" x2="422.33" y2="319.8" stroke="#444" stroke-width="1.2"/>
<polygon points="413.13,268.20 431.53,268.20 431.53,282.60 429.93,284.50 431.53,286.40 431.53,304.70 413.13,304.70 413.13,286.40 414.74,284.50 413.13,282.60" fill="#ff0000" stroke="#2a2a2a" stroke-width="1.3" stroke-linejoin="miter"/>
<line x1="414.74" y1="284.5" x2="429.93" y2="284.5" stroke="#2a2a2a" stroke-width="1.3"/>
<circle cx="422.33" cy="292.6" r="2.3" fill="#000"/>
<line x1="444.87" y1="251.9" x2="444.87" y2="267.1" stroke="#444" stroke-width="1.2"/>
<line x1="444.87" y1="305.4" x2="444.87" y2="320.4" stroke="#444" stroke-width="1.2"/>
<polygon points="435.67,267.10 454.07,267.10 454.07,281.80 452.47,283.90 454.07,286.00 454.07,305.40 435.67,305.40 435.67,286.00 437.27,283.90 435.67,281.80" fill="#ff0000" stroke="#2a2a2a" stroke-width="1.3" stroke-linejoin="miter"/>
<line x1="437.27" y1="283.9" x2="452.47" y2="283.9" stroke="#2a2a2a" stroke-width="1.3"/>
<circle cx="444.87" cy="292.6" r="2.3" fill="#000"/>
<line x1="467.40" y1="266.9" x2="467.40" y2="304.3" stroke="#444" stroke-width="1.2"/>
<line x1="467.40" y1="399.1" x2="467.40" y2="437.0" stroke="#444" stroke-width="1.2"/>
<polygon points="458.20,304.30 476.60,304.30 476.60,360.50 472.40,365.20 476.60,369.70 476.60,399.10 458.20,399.10 458.20,369.70 462.40,365.20 458.20,360.50" fill="#ff0000" stroke="#2a2a2a" stroke-width="1.3" stroke-linejoin="miter"/>
<line x1="462.40" y1="365.2" x2="472.40" y2="365.2" stroke="#2a2a2a" stroke-width="1.3"/>
<circle cx="467.40" cy="356.9" r="2.3" fill="#000"/>
<line x1="489.94" y1="282.2" x2="489.94" y2="321.3" stroke="#444" stroke-width="1.2"/>
<line x1="489.94" y1="425.7" x2="489.94" y2="464.9" stroke="#444" stroke-width="1.2"/>
<polygon points="480.74,321.30 499.14,321.30 499.14,381.40 494.94,391.30 499.14,401.00 499.14,425.70 480.74,425.70 480.74,401.00 484.94,391.30 480.74,381.40" fill="#ff0000" stroke="#2a2a2a" stroke-width="1.3" stroke-linejoin="miter"/>
<line x1="484.94" y1="391.3" x2="494.94" y2="391.3" stroke="#2a2a2a" stroke-width="1.3"/>
<circle cx="489.94" cy="373.6" r="2.3" fill="#000"/>
<line x1="512.47" y1="353.2" x2="512.47" y2="359.7" stroke="#444" stroke-width="1.2"/>
<line x1="512.47" y1="435.0" x2="512.47" y2="464.9" stroke="#444" stroke-width="1.2"/>
<polygon points="503.27,359.70 521.67,359.70 521.67,376.20 517.47,399.70 521.67,420.60 521.67,435.00 503.27,435.00 503.27,420.60 507.47,399.70 503.27,376.20" fill="#ff0000" stroke="#2a2a2a" stroke-width="1.3" stroke-linejoin="miter"/>
<line x1="507.47" y1="399.7" x2="517.47" y2="399.7" stroke="#2a2a2a" stroke-width="1.3"/>
<circle cx="512.47" cy="390.5" r="2.3" fill="#000"/>
<line x1="535.01" y1="332.4" x2="535.01" y2="364.4" stroke="#444" stroke-width="1.2"/>
<line x1="535.01" y1="443.2" x2="535.01" y2="474.8" stroke="#444" stroke-width="1.2"/>
<polygon points="525.81,364.40 544.21,364.40 544.21,405.60 540.01,408.20 544.21,410.80 544.21,443.20 525.81,443.20 525.81,410.80 530.01,408.20 525.81,405.60" fill="#ffffff" stroke="#2a2a2a" stroke-width="1.3" stroke-linejoin="miter"/>
<line x1="530.01" y1="408.2" x2="540.01" y2="408.2" stroke="#2a2a2a" stroke-width="1.3"/>
<circle cx="535.01" cy="396.4" r="2.3" fill="#000"/>
<line x1="557.55" y1="336.3" x2="557.55" y2="365.9" stroke="#444" stroke-width="1.2"/>
<line x1="557.55" y1="440.5" x2="557.55" y2="470.4" stroke="#444" stroke-width="1.2"/>
<polygon points="548.35,365.90 566.75,365.90 566.75,404.20 562.55,406.70 566.75,409.20 566.75,440.50 548.35,440.50 548.35,409.20 552.55,406.70 548.35,404.20" fill="#ffffff" stroke="#2a2a2a" stroke-width="1.3" stroke-linejoin="miter"/>
<line x1="552.55" y1="406.7" x2="562.55" y2="406.7" stroke="#2a2a2a" stroke-width="1.3"/>
<circle cx="557.55" cy="396.4" r="2.3" fill="#000"/>
<line x1="580.08" y1="342.2" x2="580.08" y2="369.7" stroke="#444" stroke-width="1.2"/>
<line x1="580.08" y1="439.3" x2="580.08" y2="466.5" stroke="#444" stroke-width="1.2"/>
<polygon points="570.88,369.70 589.28,369.70 589.28,405.60 585.08,408.20 589.28,410.80 589.28,439.30 570.88,439.30 570.88,410.80 575.08,408.20 570.88,405.60" fill="#ffffff" stroke="#2a2a2a" stroke-width="1.3" stroke-linejoin="miter"/>
<line x1="575.08" y1="408.2" x2="585.08" y2="408.2" stroke="#2a2a2a" stroke-width="1.3"/>
<circle cx="580.08" cy="397.6" r="2.3" fill="#000"/>
<line x1="602.62" y1="357.9" x2="602.62" y2="381.6" stroke="#444" stroke-width="1.2"/>
<line x1="602.62" y1="440.8" x2="602.62" y2="464.5" stroke="#444" stroke-width="1.2"/>
<polygon points="593.41,381.60 611.82,381.60 611.82,410.30 607.62,414.70 611.82,419.20 611.82,440.80 593.41,440.80 593.41,419.20 597.62,414.70 593.41,410.30" fill="#ffffff" stroke="#2a2a2a" stroke-width="1.3" stroke-linejoin="miter"/>
<line x1="597.62" y1="414.7" x2="607.62" y2="414.7" stroke="#2a2a2a" stroke-width="1.3"/>
<circle cx="602.62" cy="402.0" r="2.3" fill="#000"/>
<line x1="625.15" y1="362.9" x2="625.15" y2="386.6" stroke="#444" stroke-width="1.2"/>
<line x1="625.15" y1="445.2" x2="625.15" y2="468.6" stroke="#444" stroke-width="1.2"/>
<polygon points="615.95,386.60 634.35,386.60 634.35,411.20 630.15,414.70 634.35,418.30 634.35,445.20 615.95,445.20 615.95,418.30 620.15,414.70 615.95,411.20" fill="#ffffff" stroke="#2a2a2a" stroke-width="1.3" stroke-linejoin="miter"/>
<line x1="620.15" y1="414.7" x2="630.15" y2="414.7" stroke="#2a2a2a" stroke-width="1.3"/>
<circle cx="625.15" cy="405.8" r="2.3" fill="#000"/>
<line x1="647.68" y1="333.9" x2="647.68" y2="365.0" stroke="#444" stroke-width="1.2"/>
<line x1="647.68" y1="441.4" x2="647.68" y2="472.5" stroke="#444" stroke-width="1.2"/>
<polygon points="638.48,365.00 656.88,365.00 656.88,405.80 652.68,408.80 656.88,411.80 656.88,441.40 638.48,441.40 638.48,411.80 642.68,408.80 638.48,405.80" fill="#ffffff" stroke="#2a2a2a" stroke-width="1.3" stroke-linejoin="miter"/>
<line x1="642.68" y1="408.8" x2="652.68" y2="408.8" stroke="#2a2a2a" stroke-width="1.3"/>
<circle cx="647.68" cy="397.0" r="2.3" fill="#000"/>
<line x1="670.22" y1="342.2" x2="670.22" y2="368.8" stroke="#444" stroke-width="1.2"/>
<line x1="670.22" y1="436.0" x2="670.22" y2="462.7" stroke="#444" stroke-width="1.2"/>
<polygon points="661.02,368.80 679.42,368.80 679.42,405.00 675.22,407.30 679.42,409.70 679.42,436.00 661.02,436.00 661.02,409.70 665.22,407.30 661.02,405.00" fill="#ffffff" stroke="#2a2a2a" stroke-width="1.3" stroke-linejoin="miter"/>
<line x1="665.22" y1="407.3" x2="675.22" y2="407.3" stroke="#2a2a2a" stroke-width="1.3"/>
<circle cx="670.22" cy="394.6" r="2.3" fill="#000"/>
<line x1="692.75" y1="345.2" x2="692.75" y2="368.8" stroke="#444" stroke-width="1.2"/>
<line x1="692.75" y1="431.0" x2="692.75" y2="455.6" stroke="#444" stroke-width="1.2"/>
<polygon points="683.55,368.80 701.95,368.80 701.95,399.90 697.75,402.90 701.95,405.80 701.95,431.00 683.55,431.00 683.55,405.80 687.75,402.90 683.55,399.90" fill="#ffffff" stroke="#2a2a2a" stroke-width="1.3" stroke-linejoin="miter"/>
<line x1="687.75" y1="402.9" x2="697.75" y2="402.9" stroke="#2a2a2a" stroke-width="1.3"/>
<circle cx="692.75" cy="393.4" r="2.3" fill="#000"/>
<line x1="715.29" y1="336.3" x2="715.29" y2="358.8" stroke="#444" stroke-width="1.2"/>
<line x1="715.29" y1="415.3" x2="715.29" y2="438.1" stroke="#444" stroke-width="1.2"/>
<polygon points="706.09,358.80 724.49,358.80 724.49,386.60 720.29,391.10 724.49,395.60 724.49,415.30 706.09,415.30 706.09,395.60 710.29,391.10 706.09,386.60" fill="#ffffff" stroke="#2a2a2a" stroke-width="1.3" stroke-linejoin="miter"/>
<line x1="710.29" y1="391.1" x2="720.29" y2="391.1" stroke="#2a2a2a" stroke-width="1.3"/>
<circle cx="715.29" cy="383.7" r="2.3" fill="#000"/>
<line x1="737.83" y1="355.7" x2="737.83" y2="367.4" stroke="#444" stroke-width="1.2"/>
<line x1="737.83" y1="397.9" x2="737.83" y2="409.9" stroke="#444" stroke-width="1.2"/>
<polygon points="728.62,367.40 747.03,367.40 747.03,377.60 745.43,379.80 747.03,382.10 747.03,397.90 728.62,397.90 728.62,382.10 730.23,379.80 728.62,377.60" fill="#ffffff" stroke="#2a2a2a" stroke-width="1.3" stroke-linejoin="miter"/>
<line x1="730.23" y1="379.8" x2="745.43" y2="379.8" stroke="#2a2a2a" stroke-width="1.3"/>
<circle cx="737.83" cy="376.9" r="2.3" fill="#000"/>
<line x1="760.36" y1="321.1" x2="760.36" y2="348.2" stroke="#444" stroke-width="1.2"/>
<line x1="760.36" y1="414.8" x2="760.36" y2="441.9" stroke="#444" stroke-width="1.2"/>
<polygon points="751.16,348.20 769.56,348.20 769.56,382.10 765.36,385.50 769.56,388.90 769.56,414.80 751.16,414.80 751.16,388.90 755.36,385.50 751.16,382.10" fill="#ffffff" stroke="#2a2a2a" stroke-width="1.3" stroke-linejoin="miter"/>
<line x1="755.36" y1="385.5" x2="765.36" y2="385.5" stroke="#2a2a2a" stroke-width="1.3"/>
<circle cx="760.36" cy="377.1" r="2.3" fill="#000"/>
<line x1="782.89" y1="312.0" x2="782.89" y2="342.0" stroke="#444" stroke-width="1.2"/>
<line x1="782.89" y1="416.5" x2="782.89" y2="446.5" stroke="#444" stroke-width="1.2"/>
<polygon points="773.69,342.00 792.10,342.00 792.10,378.70 787.89,382.90 792.10,387.20 792.10,416.50 773.69,416.50 773.69,387.20 777.89,382.90 773.69,378.70" fill="#ffffff" stroke="#2a2a2a" stroke-width="1.3" stroke-linejoin="miter"/>
<line x1="777.89" y1="382.9" x2="787.89" y2="382.9" stroke="#2a2a2a" stroke-width="1.3"/>
<circle cx="782.89" cy="375.3" r="2.3" fill="#000"/>
<line x1="805.43" y1="308.9" x2="805.43" y2="337.5" stroke="#444" stroke-width="1.2"/>
<line x1="805.43" y1="409.6" x2="805.43" y2="438.5" stroke="#444" stroke-width="1.2"/>
<polygon points="796.23,337.50 814.63,337.50 814.63,372.30 810.43,375.80 814.63,379.30 814.63,409.60 796.23,409.60 796.23,379.30 800.43,375.80 796.23,372.30" fill="#ffffff" stroke="#2a2a2a" stroke-width="1.3" stroke-linejoin="miter"/>
<line x1="800.43" y1="375.8" x2="810.43" y2="375.8" stroke="#2a2a2a" stroke-width="1.3"/>
<circle cx="805.43" cy="369.5" r="2.3" fill="#000"/>
<line x1="827.96" y1="295.7" x2="827.96" y2="326.0" stroke="#444" stroke-width="1.2"/>
<line x1="827.96" y1="403.6" x2="827.96" y2="435.0" stroke="#444" stroke-width="1.2"/>
<polygon points="818.76,326.00 837.16,326.00 837.16,367.10 832.96,371.60 837.16,376.10 837.16,403.60 818.76,403.60 818.76,376.10 822.96,371.60 818.76,367.10" fill="#ffffff" stroke="#2a2a2a" stroke-width="1.3" stroke-linejoin="miter"/>
<line x1="822.96" y1="371.6" x2="832.96" y2="371.6" stroke="#2a2a2a" stroke-width="1.3"/>
<circle cx="827.96" cy="362.5" r="2.3" fill="#000"/>
<line x1="163.5" y1="290.42" x2="839.4" y2="290.42" stroke="#2b2bcc" stroke-width="1.3" stroke-dasharray="8,4.635" stroke-dashoffset="1.23"/>
<line x1="174.45" y1="483.5" x2="174.45" y2="489.7" stroke="#333" stroke-width="1.2"/>
<text transform="translate(187.35,498.40) rotate(-45)" font-size="11.2" text-anchor="end" fill="#222" stroke="#222" stroke-width="0.28">50m (2008)</text>
<line x1="196.98" y1="483.5" x2="196.98" y2="489.7" stroke="#333" stroke-width="1.2"/>
<text transform="translate(209.88,498.40) rotate(-45)" font-size="11.2" text-anchor="end" fill="#222" stroke="#222" stroke-width="0.28">50m (2010)</text>
<line x1="219.52" y1="483.5" x2="219.52" y2="489.7" stroke="#333" stroke-width="1.2"/>
<text transform="translate(232.42,498.40) rotate(-45)" font-size="11.2" text-anchor="end" fill="#222" stroke="#222" stroke-width="0.28">200m (2008)</text>
<line x1="242.06" y1="483.5" x2="242.06" y2="489.7" stroke="#333" stroke-width="1.2"/>
<text transform="translate(254.96,498.40) rotate(-45)" font-size="11.2" text-anchor="end" fill="#222" stroke="#222" stroke-width="0.28">200m (2010)</text>
<line x1="264.59" y1="483.5" x2="264.59" y2="489.7" stroke="#333" stroke-width="1.2"/>
<text transform="translate(277.49,498.40) rotate(-45)" font-size="11.2" text-anchor="end" fill="#222" stroke="#222" stroke-width="0.28">700m (2008)</text>
<line x1="287.12" y1="483.5" x2="287.12" y2="489.7" stroke="#333" stroke-width="1.2"/>
<text transform="translate(300.02,498.40) rotate(-45)" font-size="11.2" text-anchor="end" fill="#222" stroke="#222" stroke-width="0.28">700m (2010)</text>
<line x1="309.66" y1="483.5" x2="309.66" y2="489.7" stroke="#333" stroke-width="1.2"/>
<text transform="translate(322.56,498.40) rotate(-45)" font-size="11.2" text-anchor="end" fill="#222" stroke="#222" stroke-width="0.28">1500m (2008)</text>
<line x1="332.19" y1="483.5" x2="332.19" y2="489.7" stroke="#333" stroke-width="1.2"/>
<text transform="translate(342.09,498.40) rotate(-45)" font-size="10.6" text-anchor="end" fill="#222" stroke="#222" stroke-width="0.28">1500m (2010)</text>
<line x1="354.73" y1="483.5" x2="354.73" y2="489.7" stroke="#333" stroke-width="1.2"/>
<text transform="translate(361.03,500.20) rotate(-45)" font-size="10.6" text-anchor="end" fill="#222" stroke="#222" stroke-width="0.28">A2D-bsi</text>
<line x1="377.26" y1="483.5" x2="377.26" y2="489.7" stroke="#333" stroke-width="1.2"/>
<text transform="translate(383.56,500.20) rotate(-45)" font-size="10.6" text-anchor="end" fill="#222" stroke="#222" stroke-width="0.28">A2D-ucl</text>
<line x1="399.80" y1="483.5" x2="399.80" y2="489.7" stroke="#333" stroke-width="1.2"/>
<text transform="translate(406.10,500.20) rotate(-45)" font-size="10.6" text-anchor="end" fill="#222" stroke="#222" stroke-width="0.28">A2D-lcl</text>
<line x1="422.33" y1="483.5" x2="422.33" y2="489.7" stroke="#333" stroke-width="1.2"/>
<text transform="translate(428.63,500.20) rotate(-45)" font-size="10.6" text-anchor="end" fill="#222" stroke="#222" stroke-width="0.28">DD-bsi</text>
<line x1="444.87" y1="483.5" x2="444.87" y2="489.7" stroke="#333" stroke-width="1.2"/>
<text transform="translate(451.17,500.20) rotate(-45)" font-size="10.6" text-anchor="end" fill="#222" stroke="#222" stroke-width="0.28">DD-brine</text>
<line x1="467.40" y1="483.5" x2="467.40" y2="489.7" stroke="#333" stroke-width="1.2"/>
<text transform="translate(473.70,500.20) rotate(-45)" font-size="10.6" text-anchor="end" fill="#222" stroke="#222" stroke-width="0.28">KD-ucl</text>
<line x1="489.94" y1="483.5" x2="489.94" y2="489.7" stroke="#333" stroke-width="1.2"/>
<text transform="translate(496.24,500.20) rotate(-45)" font-size="10.6" text-anchor="end" fill="#222" stroke="#222" stroke-width="0.28">KD-lcl</text>
<line x1="512.47" y1="483.5" x2="512.47" y2="489.7" stroke="#333" stroke-width="1.2"/>
<text transform="translate(518.77,500.20) rotate(-45)" font-size="10.6" text-anchor="end" fill="#222" stroke="#222" stroke-width="0.28">KD-brine</text>
<line x1="535.01" y1="483.5" x2="535.01" y2="489.7" stroke="#333" stroke-width="1.2"/>
<text transform="translate(543.31,499.20) rotate(-45)" font-size="10.7" text-anchor="end" fill="#222" stroke="#222" stroke-width="0.28">50m (2010)</text>
<line x1="557.55" y1="483.5" x2="557.55" y2="489.7" stroke="#333" stroke-width="1.2"/>
<text transform="translate(565.85,499.20) rotate(-45)" font-size="10.7" text-anchor="end" fill="#222" stroke="#222" stroke-width="0.28">80m (2010)</text>
<line x1="580.08" y1="483.5" x2="580.08" y2="489.7" stroke="#333" stroke-width="1.2"/>
<text transform="translate(588.38,499.20) rotate(-45)" font-size="10.7" text-anchor="end" fill="#222" stroke="#222" stroke-width="0.28">110m (2010)</text>
<line x1="602.62" y1="483.5" x2="602.62" y2="489.7" stroke="#333" stroke-width="1.2"/>
<text transform="translate(610.91,499.20) rotate(-45)" font-size="10.7" text-anchor="end" fill="#222" stroke="#222" stroke-width="0.28">35m (2009)</text>
<line x1="625.15" y1="483.5" x2="625.15" y2="489.7" stroke="#333" stroke-width="1.2"/>
<text transform="translate(633.45,499.20) rotate(-45)" font-size="10.7" text-anchor="end" fill="#222" stroke="#222" stroke-width="0.28">50m (2009)</text>
<line x1="647.68" y1="483.5" x2="647.68" y2="489.7" stroke="#333" stroke-width="1.2"/>
<text transform="translate(655.98,499.20) rotate(-45)" font-size="10.7" text-anchor="end" fill="#222" stroke="#222" stroke-width="0.28">70m (2009)</text>
<line x1="670.22" y1="483.5" x2="670.22" y2="489.7" stroke="#333" stroke-width="1.2"/>
<text transform="translate(678.52,499.20) rotate(-45)" font-size="10.7" text-anchor="end" fill="#222" stroke="#222" stroke-width="0.28">110m (2009)</text>
<line x1="692.75" y1="483.5" x2="692.75" y2="489.7" stroke="#333" stroke-width="1.2"/>
<text transform="translate(701.05,499.20) rotate(-45)" font-size="10.7" text-anchor="end" fill="#222" stroke="#222" stroke-width="0.28">200m (2009)</text>
<line x1="715.29" y1="483.5" x2="715.29" y2="489.7" stroke="#333" stroke-width="1.2"/>
<text transform="translate(723.59,499.20) rotate(-45)" font-size="10.7" text-anchor="end" fill="#222" stroke="#222" stroke-width="0.28">15m (2008)</text>
<line x1="737.83" y1="483.5" x2="737.83" y2="489.7" stroke="#333" stroke-width="1.2"/>
<text transform="translate(746.12,499.20) rotate(-45)" font-size="10.7" text-anchor="end" fill="#222" stroke="#222" stroke-width="0.28">50m (2008)</text>
<line x1="760.36" y1="483.5" x2="760.36" y2="489.7" stroke="#333" stroke-width="1.2"/>
<text transform="translate(768.66,499.20) rotate(-45)" font-size="10.7" text-anchor="end" fill="#222" stroke="#222" stroke-width="0.28">85m (2008)</text>
<line x1="782.89" y1="483.5" x2="782.89" y2="489.7" stroke="#333" stroke-width="1.2"/>
<text transform="translate(791.19,499.20) rotate(-45)" font-size="10.7" text-anchor="end" fill="#222" stroke="#222" stroke-width="0.28">110m (2008)</text>
<line x1="805.43" y1="483.5" x2="805.43" y2="489.7" stroke="#333" stroke-width="1.2"/>
<text transform="translate(813.73,499.20) rotate(-45)" font-size="10.7" text-anchor="end" fill="#222" stroke="#222" stroke-width="0.28">200m (2008)</text>
<line x1="827.96" y1="483.5" x2="827.96" y2="489.7" stroke="#333" stroke-width="1.2"/>
<text transform="translate(836.26,499.20) rotate(-45)" font-size="10.7" text-anchor="end" fill="#222" stroke="#222" stroke-width="0.28">500m (2008)</text>
<line x1="164.5" y1="555.7" x2="513" y2="555.7" stroke="#444" stroke-width="1.6"/>
<line x1="517" y1="555.7" x2="836.7" y2="555.7" stroke="#444" stroke-width="1.6"/>
<text x="343.7" y="571" font-size="11.7" text-anchor="middle" fill="#222" stroke="#222" stroke-width="0.28">Red Sea watercolumn/brines</text>
<text x="684.5" y="571" font-size="11.7" text-anchor="middle" fill="#222" stroke="#222" stroke-width="0.28">Eastern Tropical South Pacific watercolumn</text>
</svg></body></html>
